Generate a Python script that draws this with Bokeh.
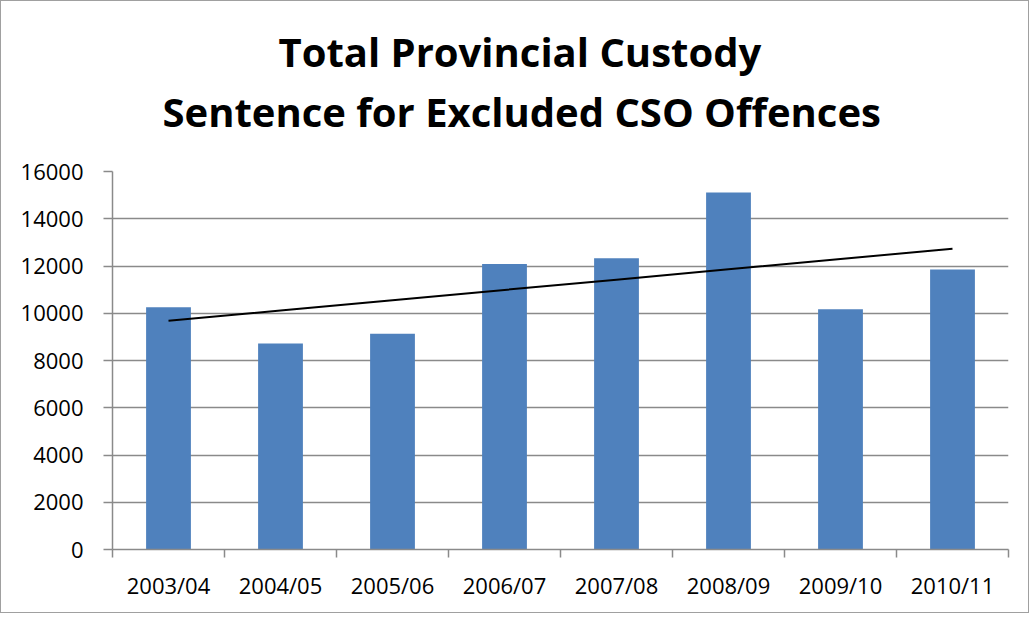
import numpy as np
from bokeh.plotting import figure
from bokeh.models import Range1d, FixedTicker, Title
from bokeh.embed import file_html
from bokeh.resources import INLINE

categories = ["2003/04", "2004/05", "2005/06", "2006/07", "2007/08", "2008/09", "2009/10", "2010/11"]
values = [10250, 8720, 9130, 12080, 12330, 15110, 10170, 11850]
y_ticks = [0, 2000, 4000, 6000, 8000, 10000, 12000, 14000, 16000]
title_lines = ["Total  Provincial Custody", "Sentence for Excluded CSO Offences"]

idx = np.arange(len(categories))
xc = idx + 0.5

p = figure(width=1029, height=613, output_backend="svg", toolbar_location=None,
           title=None,
           x_range=Range1d(0, len(categories)), y_range=Range1d(0, y_ticks[-1]),
           min_border_left=111, min_border_right=22, min_border_top=170, min_border_bottom=65)
p.styles = {"border": "1px solid #a0a0a0"}
p.outline_line_color = None
p.background_fill_color = "white"
p.border_fill_color = "white"

AX = "#8a8a8a"
FONT = "Open Sans"

# x axis
xa = p.xaxis[0]
xa.ticker = FixedTicker(ticks=list(xc), minor_ticks=list(range(len(categories) + 1)))
xa.major_label_overrides = {float(v): c for v, c in zip(xc, categories)}
xa.major_tick_out = 0
xa.major_tick_in = 0
xa.minor_tick_out = 8
xa.minor_tick_in = 0
xa.minor_tick_line_color = AX
xa.minor_tick_line_width = 1.5
xa.axis_line_color = AX
xa.axis_line_width = 1.5
xa.major_label_text_font = FONT
xa.major_label_text_font_size = "22px"
xa.major_label_text_color = "black"
xa.major_label_standoff = 12

# y axis
ya = p.yaxis[0]
ya.ticker = FixedTicker(ticks=y_ticks)
ya.major_tick_out = 9
ya.major_tick_in = 0
ya.minor_tick_line_color = None
ya.major_tick_line_color = AX
ya.major_tick_line_width = 1.5
ya.axis_line_color = AX
ya.axis_line_width = 1.5
ya.major_label_text_font = FONT
ya.major_label_text_font_size = "22px"
ya.major_label_text_color = "black"
ya.major_label_standoff = 20

p.xgrid.visible = False
p.ygrid.grid_line_color = AX
p.ygrid.grid_line_width = 1.5

p.vbar(x=xc, top=values, width=0.4, fill_color="#4F81BD", line_color=None)

coef = np.polyfit(idx, values, 1)
p.line(xc, np.polyval(coef, idx), line_color="black", line_width=2)

t2 = Title(text=title_lines[1], align="left", offset=50, text_font=FONT, text_font_size="40px",
           text_font_style="bold", text_color="black", standoff=66)
p.add_layout(t2, "above")
t1 = Title(text=title_lines[0], align="left", offset=166, text_font=FONT, text_font_size="40px",
           text_font_style="bold", text_color="black", standoff=-60)
p.add_layout(t1, "above")

open("out.html", "w").write(file_html(p, INLINE))
